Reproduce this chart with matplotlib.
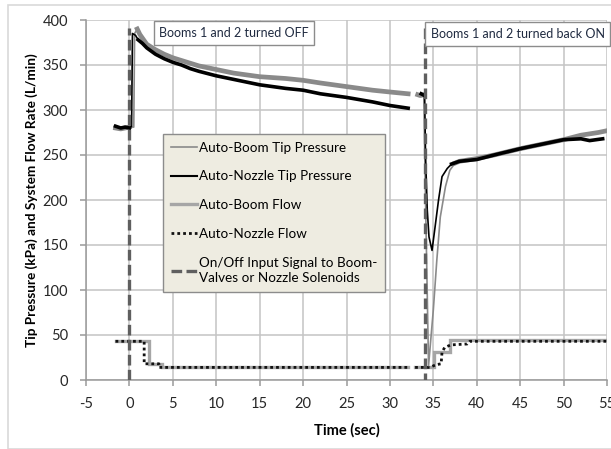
import numpy as np
import matplotlib
matplotlib.use("Agg")
import matplotlib.pyplot as plt
from matplotlib.lines import Line2D
from matplotlib.patches import Rectangle

plt.rcParams['font.family'] = ['Lato', 'DejaVu Sans']
plt.rcParams['axes.unicode_minus'] = False

nan = np.nan

# Auto-Boom Tip Pressure (kPa)
boom_p_t = [-1.6, -1.0, 0.0, 0.5, 0.6, 0.9, 1.2, 2, 3, 4, 5, 6, 7, 8, 10, 12, 15, 18, 20, 22, 25, 28, 30, 32.1,
            nan, 33.2, 33.5, 33.9, 34.1, 34.45, 35.0, 35.4, 35.8, 36.4, 36.9, 37.5, 38, 40, 42, 45, 48, 50, 52, 54, 55]
boom_p_v = [280, 279, 281, 281, 385, 390, 384, 373, 367, 362, 358, 355, 352, 349, 345, 341, 337, 335, 333, 330, 326, 322, 320, 318,
            nan, 317, 316, 317, 200, 16, 78, 133, 181, 215, 233, 241, 243, 246, 250, 257, 263, 267, 272, 275, 277]

# Auto-Nozzle Tip Pressure (kPa)
nozzle_p_t = [-1.6, -1.0, -0.5, 0.0, 0.25, 0.35, 0.7, 1.0, 1.5, 2, 3, 4, 5, 6, 7, 8, 10, 12, 15, 18, 20, 22, 25, 28, 30, 32.1,
              nan, 33.6, 34.0, 34.1, 34.3, 34.5, 34.85, 35.2, 35.6, 36.0, 36.6, 37.1, 38, 40, 42, 45, 48, 50, 52, 53, 54.5]
nozzle_p_v = [282, 280, 281, 280, 282, 385, 383, 378, 374, 369, 362, 357, 353, 350, 346, 343, 338, 334, 328, 324, 322, 318, 314, 309, 305, 302,
              nan, 318, 316, 250, 189, 159, 144, 170, 200, 226, 235, 240, 243, 245, 250, 257, 263, 267, 268, 266, 268]

# Auto-Boom Flow (L/min)
boom_f_t = [-1.6, 2.2, 2.2, 3.7, 3.7, 32.1, nan, 32.9, 35.1, 35.1, 36.9, 36.9, 55]
boom_f_v = [43, 43, 18, 18, 14, 14, nan, 14, 14, 31, 31, 44, 44]

# Auto-Nozzle Flow (L/min)
nozzle_f_t = [-1.6, 1.7, 1.7, 3.4, 3.4, 32.1, nan, 32.9, 34.6, 35.3, 35.9, 36.0, 36.3, 37.0, 38.9, 39.2, 55]
nozzle_f_v = [43, 43, 18, 18, 14, 14, nan, 14, 14, 17, 18, 31, 36, 39, 40, 43, 43]

# On/Off input signal
signal_t = [0, 0, nan, 34, 34]
signal_v = [0, 391, nan, 391, 0]

x_ticks = [-5, 0, 5, 10, 15, 20, 25, 30, 35, 40, 45, 50, 55]
y_ticks = [0, 50, 100, 150, 200, 250, 300, 350, 400]

labels = ["Auto-Boom Tip Pressure", "Auto-Nozzle Tip Pressure", "Auto-Boom Flow",
          "Auto-Nozzle Flow", "On/Off Input Signal to Boom-\nValves or Nozzle Solenoids"]

fig = plt.figure(figsize=(6.11, 4.49), dpi=100)
ax = fig.add_axes([86/611, 1-380/449, (607-86)/611, 360/449])

c_boom_p = '#8a8a8a'
c_nozzle_p = '#000000'
c_boom_f = '#a6a6a6'
c_sig = '#5f5f5f'

def noisy_mask(t, v):
    t = np.asarray(t, float); v = np.asarray(v, float)
    trans = ((t > 0.2) & (t < 0.8)) | ((t > 34.05) & (t < 37.0))
    return np.where(trans, nan, v)

# flows
ax.plot(boom_f_t, boom_f_v, color=c_boom_f, lw=2.4, zorder=3, solid_joinstyle='miter')
ax.plot(nozzle_f_t, nozzle_f_v, color='#111111', lw=2.0, ls=(0, (1, 1.1)), zorder=4)
# pressures (thin full trace + thicker noisy band)
ax.plot(boom_p_t, boom_p_v, color=c_boom_p, lw=1.2, zorder=5)
ax.plot(boom_p_t, noisy_mask(boom_p_t, boom_p_v), color=c_boom_p, lw=3.4, zorder=5)
ax.plot(nozzle_p_t, nozzle_p_v, color=c_nozzle_p, lw=1.2, zorder=6)
ax.plot(nozzle_p_t, noisy_mask(nozzle_p_t, nozzle_p_v), color=c_nozzle_p, lw=2.6, zorder=6)
# signal
ax.plot(signal_t, signal_v, color=c_sig, lw=2.4, ls=(0, (3.2, 1.3)), zorder=7)

ax.set_xlim(-5, 55)
ax.set_ylim(0, 400)
ax.set_xticks(x_ticks)
ax.set_yticks(y_ticks)
ax.grid(True, color='#c4c4c4', lw=1.1)
ax.set_axisbelow(True)
for s in ['top', 'right']:
    ax.spines[s].set_visible(False)
for s in ['left', 'bottom']:
    ax.spines[s].set_color('#9a9a9a')
    ax.spines[s].set_linewidth(1.1)
ax.tick_params(axis='both', direction='out', length=4, width=1.1, color='#9a9a9a',
               labelsize=10.5, labelcolor='#262626')
ax.tick_params(axis='x', pad=8)
ax.tick_params(axis='y', pad=9)

ax.set_xlabel('Time (sec)', fontsize=10.5, fontweight='bold', labelpad=9)
ax.set_ylabel('Tip Pressure (kPa) and System Flow Rate (L/min)', fontsize=9.8, fontweight='bold', labelpad=3)

# annotation boxes
bbox = dict(boxstyle='square,pad=0.45', facecolor='white', edgecolor='#8c8c8c', lw=1)
ax.text(12.05, 385.5, 'Booms 1 and 2 turned OFF', fontsize=9, ha='center', va='center',
        color='#1f2a40', bbox=bbox, zorder=10)
ax.text(44.7, 384.5, 'Booms 1 and 2 turned back ON', fontsize=9, ha='center', va='center',
        color='#1f2a40', bbox=bbox, zorder=10)

handles = [
    Line2D([], [], color=c_boom_p, lw=1.2),
    Line2D([], [], color=c_nozzle_p, lw=1.5),
    Line2D([], [], color=c_boom_f, lw=2.4),
    Line2D([], [], color='#111111', lw=2.0, ls=(0, (1, 1.1))),
    Line2D([], [], color=c_sig, lw=2.4, ls=(0, (3.2, 1.3))),
]
leg = ax.legend(handles, labels, loc='upper left', bbox_to_anchor=(0.148, 0.683),
                fontsize=9.7, frameon=True, fancybox=False, facecolor='#eeece1',
                edgecolor='#8c8c8c', framealpha=1, labelspacing=1.25, handlelength=2.0,
                handletextpad=0.1, borderpad=0.55, borderaxespad=0)
for txt in leg.get_texts():
    txt.set_linespacing(1.35)
leg.get_frame().set_linewidth(1)
leg.set_zorder(9)

fig.patches.append(Rectangle((8/611, 0), 1, 1-5/449, transform=fig.transFigure,
                             fill=False, edgecolor='#d9d9d9', lw=1.2))

fig.savefig('out.png', dpi=100)
